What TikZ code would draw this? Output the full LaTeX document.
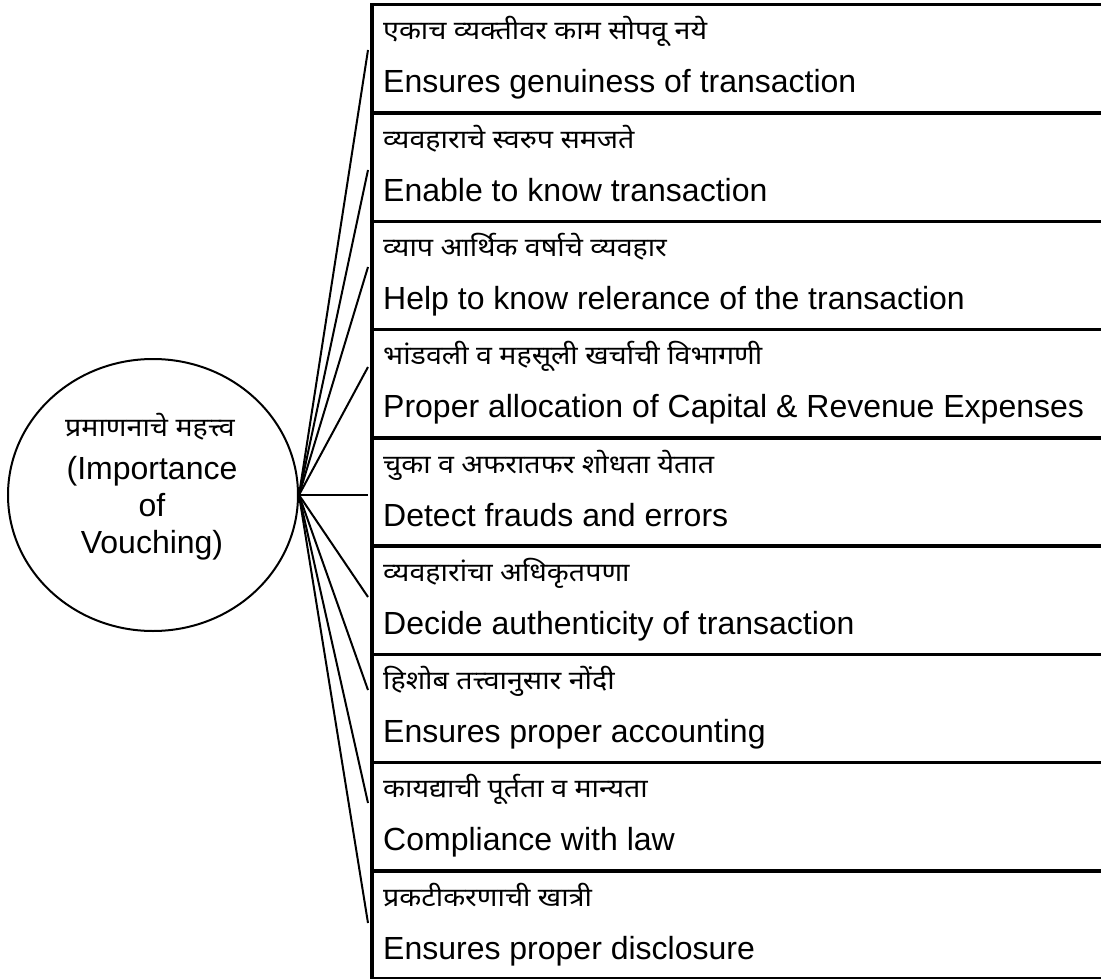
\documentclass[tikz,border=0pt]{standalone}
\usepackage{fontspec}
\setmainfont{Liberation Sans}
\newfontfamily\deva[Script=Devanagari,FakeStretch=1.1]{Noto Sans}
\usetikzlibrary{shapes.geometric}
\tikzset{
  rowbox/.style={draw, line width=3.5pt, rectangle, minimum width=733pt, minimum height=108.25pt, anchor=north west, inner sep=0pt},
  hub/.style={draw, ellipse, line width=2pt, minimum width=290pt, minimum height=272pt, inner sep=0pt},
  link/.style={line width=2pt},
  detxt/.style={anchor=base west, inner sep=0pt, font=\deva\fontsize{26}{30}\selectfont},
  entxt/.style={anchor=base west, inner sep=0pt, font=\fontsize{32}{37}\selectfont},
  ctxt/.style={anchor=center, inner sep=0pt, align=center}
}
\begin{document}
\begin{tikzpicture}[x=1pt,y=-1pt]
\useasboundingbox (0,0) rectangle (1101,979);
\clip (0,0) rectangle (1101,979);
% table rows
\foreach \i in {1,...,9}{
  \node[rowbox] (r\i) at (370,{3+108.25*(\i-1)}) {};
}
% texts
\node[detxt] (d1) at (383,{3+108.25*0+37}) {एकाच व्यक्तीवर काम सोपवू नये};
\node[entxt] (t1) at (383,{3+108.25*0+90}) {Ensures genuiness of transaction};
\node[detxt] (d2) at (383,{3+108.25*1+37}) {व्यवहाराचे स्वरुप समजते};
\node[entxt] (t2) at (383,{3+108.25*1+90}) {Enable to know transaction};
\node[detxt] (d3) at (383,{3+108.25*2+37}) {व्याप आर्थिक वर्षाचे व्यवहार};
\node[entxt] (t3) at (383,{3+108.25*2+90}) {Help to know relerance of the transaction};
\node[detxt] (d4) at (383,{3+108.25*3+37}) {भांडवली व महसूली खर्चाची विभागणी};
\node[entxt] (t4) at (383,{3+108.25*3+90}) {Proper allocation of Capital \& Revenue Expenses};
\node[detxt] (d5) at (383,{3+108.25*4+37}) {चुका व अफरातफर शोधता येतात};
\node[entxt] (t5) at (383,{3+108.25*4+90}) {Detect frauds and errors};
\node[detxt] (d6) at (383,{3+108.25*5+37}) {व्यवहारांचा अधिकृतपणा};
\node[entxt] (t6) at (383,{3+108.25*5+90}) {Decide authenticity of transaction};
\node[detxt] (d7) at (383,{3+108.25*6+37}) {हिशोब तत्त्वानुसार नोंदी};
\node[entxt] (t7) at (383,{3+108.25*6+90}) {Ensures proper accounting};
\node[detxt] (d8) at (383,{3+108.25*7+37}) {कायद्याची पूर्तता व मान्यता};
\node[entxt] (t8) at (383,{3+108.25*7+90}) {Compliance with law};
\node[detxt] (d9) at (383,{3+108.25*8+37}) {प्रकटीकरणाची खात्री};
\node[entxt] (t9) at (383,{3+108.25*8+90}) {Ensures proper disclosure};
% central ellipse
\node[hub] (c) at (153,495) {};
\node[ctxt, font=\deva\fontsize{26}{30}\selectfont] (cd) at (150,427) {प्रमाणनाचे महत्त्व};
\node[ctxt, font=\fontsize{32}{37}\selectfont] (ce) at (152,508) {(Importance\\of\\Vouching)};
% connector end points on the table edge
\foreach \i/\yy in {1/50,2/170,3/267,4/367,5/495,6/597,7/690,8/803,9/923}{
  \coordinate (e\i) at (368,\yy);
  \draw[link] (c.east) -- (e\i);
}
\end{tikzpicture}
\end{document}
